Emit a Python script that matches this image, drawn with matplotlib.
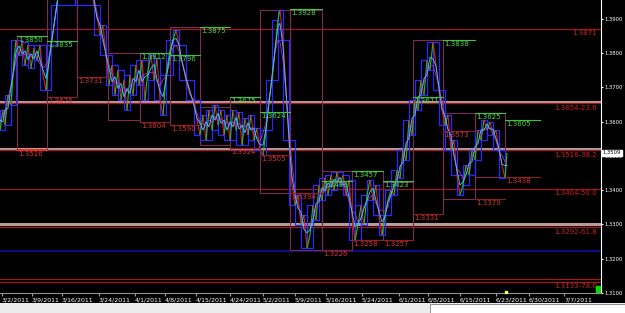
import matplotlib
matplotlib.use('Agg')
import matplotlib.pyplot as plt
import numpy as np
import pandas as pd
from matplotlib.collections import LineCollection
from matplotlib.patches import Rectangle

plt.rcParams['font.family'] = ['Liberation Sans Narrow', 'DejaVu Sans']

# EUR/USD path, bar index vs price
bars = [0, 3, 5, 8, 11, 14, 16, 19, 22, 25, 28, 31, 34, 37, 40, 43, 46, 48, 51, 54,
        57, 60, 75, 90, 94, 97, 100, 103, 106, 109, 112, 115, 118, 121, 124, 127, 130, 133, 136, 139,
        142, 145, 148, 151, 154, 157, 160, 163, 166, 170, 173, 176, 179, 182, 186, 190, 194, 197, 200, 203,
        206, 209, 212, 215, 218, 221, 224, 227, 230, 233, 236, 239, 242, 245, 248, 251, 254, 257, 260, 263,
        266, 269, 272, 275, 278, 280, 283, 286, 289, 292, 295, 298, 301, 304, 307, 310, 313, 316, 319, 322,
        325, 328, 331, 334, 337, 340, 343, 346, 349, 352, 355, 358, 361, 364, 367, 370, 373, 376, 379, 382,
        385, 388, 391, 394, 397, 400, 403, 406, 409, 412, 415, 418, 421, 424, 427, 430, 433, 436, 439, 442,
        445, 448, 451, 454, 457, 460, 463, 466, 469, 472, 475, 478, 481, 484, 487, 490, 493, 496, 499, 502,
        505, 507]
prices = [1.3575, 1.3634, 1.3590, 1.3678, 1.3648, 1.3780, 1.3838, 1.3794, 1.3832, 1.3765,
          1.3824, 1.3756, 1.3815, 1.3780, 1.3824, 1.3736, 1.3692, 1.3751, 1.3824, 1.3882,
          1.3940, 1.4013, 1.4072, 1.4013, 1.3940, 1.3911, 1.3853, 1.3882, 1.3794, 1.3707,
          1.3765, 1.3678, 1.3751, 1.3663, 1.3721, 1.3634, 1.3736, 1.3678, 1.3765, 1.3707,
          1.3780, 1.3663, 1.3751, 1.3794, 1.3721, 1.3786, 1.3663, 1.3619, 1.3736, 1.3809,
          1.3838, 1.3867, 1.3824, 1.3780, 1.3721, 1.3678, 1.3663, 1.3605, 1.3561, 1.3619,
          1.3546, 1.3634, 1.3575, 1.3648, 1.3590, 1.3634, 1.3561, 1.3619, 1.3546, 1.3634,
          1.3575, 1.3628, 1.3532, 1.3610, 1.3561, 1.3619, 1.3546, 1.3581, 1.3517, 1.3502,
          1.3575, 1.3663, 1.3721, 1.3809, 1.3897, 1.3926, 1.3838, 1.3692, 1.3546, 1.3415,
          1.3356, 1.3386, 1.3298, 1.3327, 1.3231, 1.3269, 1.3356, 1.3313, 1.3415, 1.3371,
          1.3435, 1.3386, 1.3444, 1.3400, 1.3453, 1.3415, 1.3444, 1.3386, 1.3429, 1.3327,
          1.3254, 1.3298, 1.3356, 1.3298, 1.3386, 1.3429, 1.3371, 1.3415, 1.3327, 1.3269,
          1.3327, 1.3371, 1.3400, 1.3386, 1.3459, 1.3435, 1.3517, 1.3488, 1.3605, 1.3561,
          1.3663, 1.3634, 1.3721, 1.3678, 1.3780, 1.3751, 1.3832, 1.3765, 1.3692, 1.3634,
          1.3590, 1.3619, 1.3517, 1.3546, 1.3444, 1.3386, 1.3415, 1.3473, 1.3444, 1.3517,
          1.3488, 1.3575, 1.3546, 1.3605, 1.3575, 1.3599, 1.3561, 1.3575, 1.3517, 1.3473,
          1.3435, 1.3509]
last_price = '1.3509'

date_pos = [2, 32, 62, 99, 135, 165, 196, 230, 263, 295, 326, 362, 399, 428, 460, 496, 529, 564]
date_labels = ['3/2/2011', '3/9/2011', '3/16/2011', '3/24/2011', '4/1/2011', '4/8/2011',
               '4/15/2011', '4/24/2011', '5/2/2011', '5/9/2011', '5/16/2011', '5/24/2011',
               '6/1/2011', '6/8/2011', '6/15/2011', '6/23/2011', '6/30/2011', '7/7/2011']
price_ticks = [1.31, 1.32, 1.33, 1.34, 1.35, 1.36, 1.37, 1.38, 1.39]

# swing boxes
box_x0 = [17, 47, 77, 108, 140, 170, 200, 230, 260, 290, 322, 352, 383, 413, 443, 475]
box_x1 = [47, 77, 108, 140, 170, 200, 230, 260, 290, 322, 352, 383, 413, 443, 475, 505]
box_hi = [1.3850, 1.3990, 1.3990, 1.3800, 1.3800, 1.3876, 1.3643, 1.3672, 1.3926, 1.3926,
          1.3455, 1.3455, 1.3424, 1.3838, 1.3625, 1.3625]
box_lo = [1.3517, 1.3672, 1.3730, 1.3605, 1.3599, 1.3590, 1.3531, 1.3517, 1.3391, 1.3225,
          1.3225, 1.3254, 1.3254, 1.3330, 1.3374, 1.3438]

# swing highs (green) and lows (red)
hi_x0 = [17, 47, 140, 170, 200, 230, 260, 290, 322, 352, 383, 413, 443, 475, 505]
hi_x1 = [47, 77, 170, 200, 230, 260, 290, 322, 352, 383, 413, 443, 475, 505, 540]
hi_price = [1.3850, 1.3835, 1.3800, 1.3795, 1.3876, 1.3672, 1.3628, 1.3929, 1.3426, 1.3455,
            1.3426, 1.3672, 1.3838, 1.3625, 1.3605]
hi_text = ['1.3850', '1.3835', '1.3812', '1.3796', '1.3875', '1.3675', '1.3624', '1.3928',
           '1.3433', '1.3457', '1.3423', '1.3671', '1.3838', '1.3625', '1.3605']

lo_x0 = [17, 47, 77, 140, 170, 230, 260, 290, 322, 352, 383, 413, 443, 475, 505]
lo_x1 = [47, 77, 108, 170, 200, 260, 290, 322, 352, 383, 413, 443, 475, 505, 540]
lo_price = [1.3517, 1.3672, 1.3730, 1.3599, 1.3590, 1.3523, 1.3502, 1.3391, 1.3225, 1.3254,
            1.3254, 1.3330, 1.3573, 1.3374, 1.3438]
lo_text = ['1.3516', '1.3675', '1.3731', '1.3604', '1.3590', '1.3524', '1.3505', '1.3394',
           '1.3226', '1.3258', '1.3257', '1.3331', '1.3573', '1.3379', '1.3438']

# fibonacci levels across the chart
fib_price = [1.3871, 1.3654, 1.3516, 1.3404, 1.3292, 1.3133]
fib_text = ['1.3871', '1.3654-23.6', '1.3516-38.2', '1.3404-50.0', '1.3292-61.8', '1.3133-78.6']
band_price = [1.3657, 1.3519, 1.3302]
extra_red = [1.3142]
blue_level = 1.3224

fig = plt.figure(figsize=(6.25, 3.13), dpi=100, facecolor='black')
ax = fig.add_axes([0, 20 / 313, 601 / 625, 293 / 313], facecolor='black')
ax.set_xlim(0, 601)
ax.set_ylim(1.3101, 1.3955)

# full width levels
for p in band_price:
    ax.axhline(p, color='#b89a9a', lw=2.2, zorder=1)
for p in fib_price + extra_red:
    ax.axhline(p, color='#9a1c1c', lw=0.9, zorder=1)
ax.axhline(blue_level, color='#1010b0', lw=1.1, zorder=1)
for p, t in zip(fib_price, fib_text):
    ax.text(597, p - 0.0004, t, color='#d02020', fontsize=5, ha='right', va='top')

# swing boxes
for x0, x1, hi, lo in zip(box_x0, box_x1, box_hi, box_lo):
    ax.add_patch(Rectangle((x0, lo), x1 - x0, hi - lo, fill=False, ec='#7a2c55', lw=0.8, zorder=2))

# blue step boxes around the price
for i in range(0, len(bars) - 2, 2):
    seg = prices[i:i + 3]
    ax.add_patch(Rectangle((bars[i], min(seg)), bars[i + 2] - bars[i], max(seg) - min(seg),
                           fill=False, ec='#2a2aff', lw=0.9, zorder=3))

# price line coloured by direction
pts = np.column_stack([bars, prices])
segs = np.stack([pts[:-1], pts[1:]], axis=1)
cols = ['#22c022' if b > a else '#d02020' for a, b in zip(prices[:-1], prices[1:])]
ax.add_collection(LineCollection(segs, colors=cols, lw=0.8, zorder=4))
ma = pd.Series(prices).rolling(3, center=True, min_periods=1).mean()
ma2 = pd.Series(prices).rolling(5, center=True, min_periods=1).mean()
ax.plot(bars, ma2, color='#b030b0', lw=0.6, zorder=4)
ax.plot(bars, ma, color='#40c8ff', lw=0.6, zorder=5)

# swing labels
for x0, x1, p, t in zip(hi_x0, hi_x1, hi_price, hi_text):
    ax.plot([x0, x1], [p, p], color='#40c040', lw=0.8, zorder=6)
    ax.text(x0 + 1, p - 0.0003, t, color='#40e040', fontsize=5, va='top', zorder=7)
for x0, x1, p, t in zip(lo_x0, lo_x1, lo_price, lo_text):
    ax.plot([x0, x1], [p, p], color='#8a2020', lw=0.8, zorder=6)
    ax.text(x0 + 1, p - 0.0003, t, color='#e03030', fontsize=5, va='top', zorder=7)
ax.plot([17, 47], [1.3517, 1.3517], color='#e03030', lw=1.4, zorder=6)

# axes styling
ax.yaxis.tick_right()
ax.set_yticks(price_ticks)
ax.set_yticklabels(['%.4f' % v for v in price_ticks], color='white', fontsize=3.8)
ax.set_xticks(date_pos)
ax.set_xticklabels(date_labels, color='white', fontsize=4.5, ha='left')
ax.tick_params(axis='y', colors='white', length=1.5, pad=1.2, labelsize=3.8)
ax.tick_params(axis='x', colors='#a0a0a0', length=2, pad=1.5, labelsize=4.5, labelcolor='white')
for s in ['top', 'left']:
    ax.spines[s].set_visible(False)
ax.spines['right'].set_color('white')
ax.spines['bottom'].set_color('#909090')

ax.annotate(last_price, xy=(1.003, float(last_price)), xycoords=('axes fraction', 'data'),
            fontsize=3.8, color='black', va='center', ha='left', annotation_clip=False,
            bbox=dict(boxstyle='square,pad=0.15', fc='white', ec='white'))
ax.add_patch(Rectangle((596, 1.3104), 5, 0.0017, color='#00e000', zorder=8))
ax.plot(506, 1.3103, 's', color='#ffff60', ms=2, clip_on=False, zorder=8)

# bottom window strip
fig.patches.append(Rectangle((0, 0), 1, 10 / 313, transform=fig.transFigure, fc='#ececec', ec='none'))
fig.patches.append(Rectangle((430 / 625, 0), 195 / 625, 9 / 313, transform=fig.transFigure,
                             fc='white', ec='#808080', lw=0.6))

fig.savefig('out.png', dpi=100, facecolor='black')
